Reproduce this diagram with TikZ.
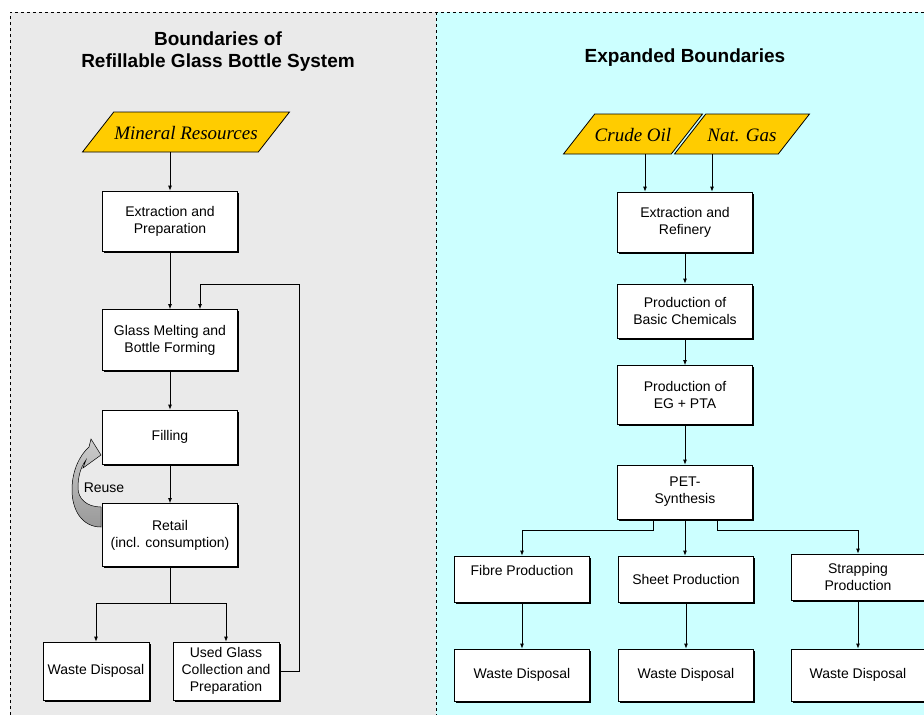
\documentclass[tikz,border=0pt]{standalone}
\usepackage{fontspec}
\setmainfont{Liberation Sans}
\newfontfamily\timesfont{Liberation Serif}
\usetikzlibrary{shapes.geometric,shadows,arrows.meta}
\definecolor{leftbg}{HTML}{EAEAEA}
\definecolor{rightbg}{HTML}{CCFFFF}
\definecolor{resyellow}{HTML}{FFCC00}

\begin{document}
\begin{tikzpicture}[x=1pt,y=-1pt]
        \tikzstyle{box} = [draw,fill=white,line width=0.8pt,align=center,inner sep=2pt,
          font=\fontsize{14}{17}\selectfont,minimum width=135pt,
          drop shadow={shadow xshift=1.6pt,shadow yshift=-1.6pt,fill=black,opacity=1}]
        \tikzstyle{res} = [draw,fill=resyellow,line width=0.8pt,trapezium,trapezium left angle=52,
          trapezium right angle=128,trapezium stretches body=true,text height=17.5pt,text depth=2pt,
          inner ysep=10.25pt,inner xsep=0pt,font=\timesfont\itshape\fontsize{19}{22}\selectfont]
        \tikzstyle{title} = [align=center,font=\bfseries\fontsize{19}{22}\selectfont]
        \tikzstyle{arr} = [-{Latex[length=5pt,width=4pt]},line width=0.8pt]
        \useasboundingbox (0,0) rectangle (924,715);
        \fill[leftbg] (10,12) rectangle (436,715);
        \fill[rightbg] (436,12) rectangle (924,715);
        \draw[dashed] (10,715) -- (10,12) -- (924,12);
        \draw[dashed] (436,12) -- (436,715);
        \node[title] (lefttitle) at (218,52) {Boundaries of\\Refillable Glass Bottle System};
        \node[title] (righttitle) at (685,58) {Expanded Boundaries};
        % reuse loop
        \shade[top color=gray!40,bottom color=gray!80,draw=black,line width=0.5pt]
          (101,527) .. controls (82,527) and (72,510) .. (72,490)
          .. controls (72,470) and (80,455) .. (89,447) -- (91,439) -- (101,455) -- (83,468) -- (86,460)
          .. controls (80,468) and (78,478) .. (78,488)
          .. controls (78,498) and (86,507) .. (101,507) -- cycle;
        \node[font=\fontsize{14}{17}\selectfont] (reuse) at (104,488) {Reuse};
        % glass bottle system
        \node[res,minimum width=207pt] (mineral) at (186,132) {Mineral Resources};
        \node[box,minimum height=60pt] (extr) at (170,221) {Extraction and\\Preparation};
        \node[box,minimum height=61pt] (melt) at (170,340) {Glass Melting and\\Bottle Forming};
        \node[box,minimum height=54pt] (fill) at (170,437) {Filling};
        \node[box,minimum height=63pt] (retail) at (170,535) {Retail\\(incl. consumption)};
        \node[box,minimum width=106pt,minimum height=58pt] (wasteL) at (96,671) {Waste Disposal};
        \node[box,minimum width=106pt,minimum height=58pt] (used) at (226,671) {Used Glass\\Collection and\\Preparation};
        % PET system
        \node[res,minimum width=134pt] (crude) at (633,134) {Crude Oil};
        \node[res,minimum width=135pt] (gas) at (742,134) {Nat. Gas};
        \node[box,minimum height=60pt] (refin) at (685,222) {Extraction and\\Refinery};
        \node[box,minimum height=54pt] (chem) at (685,311) {Production of\\Basic Chemicals};
        \node[box,minimum height=59pt] (egpta) at (685,395) {Production of\\EG + PTA};
        \node[box,minimum height=54pt] (pet) at (685,492) {PET-\\Synthesis};
        \node[box,minimum height=46pt] (fibre) at (522,579) {Fibre Production\\\mbox{}};
        \node[box,minimum height=46pt] (sheet) at (686,579) {Sheet Production};
        \node[box,minimum width=133pt,minimum height=46pt] (strap) at (858,577) {Strapping\\Production};
        \node[box,minimum height=52pt] (wasteF) at (522,675) {Waste Disposal};
        \node[box,minimum height=52pt] (wasteS) at (686,675) {Waste Disposal};
        \node[box,minimum width=133pt,minimum height=52pt] (wasteT) at (858,675) {Waste Disposal};
        % connectors
        \draw[arr] (mineral.south -| extr.north) -- (extr.north);
        \draw[arr] ([xshift=12pt]crude.south) -- ([xshift=12pt]crude.south |- refin.north);
        \draw[arr] ([xshift=-30pt]gas.south) -- ([xshift=-30pt]gas.south |- refin.north);
        \foreach \a/\b in {extr/melt,melt/fill,fill/retail,refin/chem,chem/egpta,egpta/pet,pet/sheet,fibre/wasteF,sheet/wasteS,strap/wasteT}
          \draw[arr] (\a.south) -- (\a.south |- \b.north);
        \coordinate (split) at (170,603);
        \draw[line width=0.8pt] (retail.south) -- (split);
        \draw[arr] (split) -| (wasteL.north);
        \draw[arr] (split) -| (used.north);
        \coordinate (back) at (299,284);
        \draw[arr] (used.east) -| (back) -| ([xshift=30pt]melt.north);
        \draw[arr] ([xshift=-32pt]pet.south) -- ++(0,11) -| (fibre.north);
        \draw[arr] ([xshift=32pt]pet.south) -- ++(0,11) -| (strap.north);
      \end{tikzpicture}
\end{document}
